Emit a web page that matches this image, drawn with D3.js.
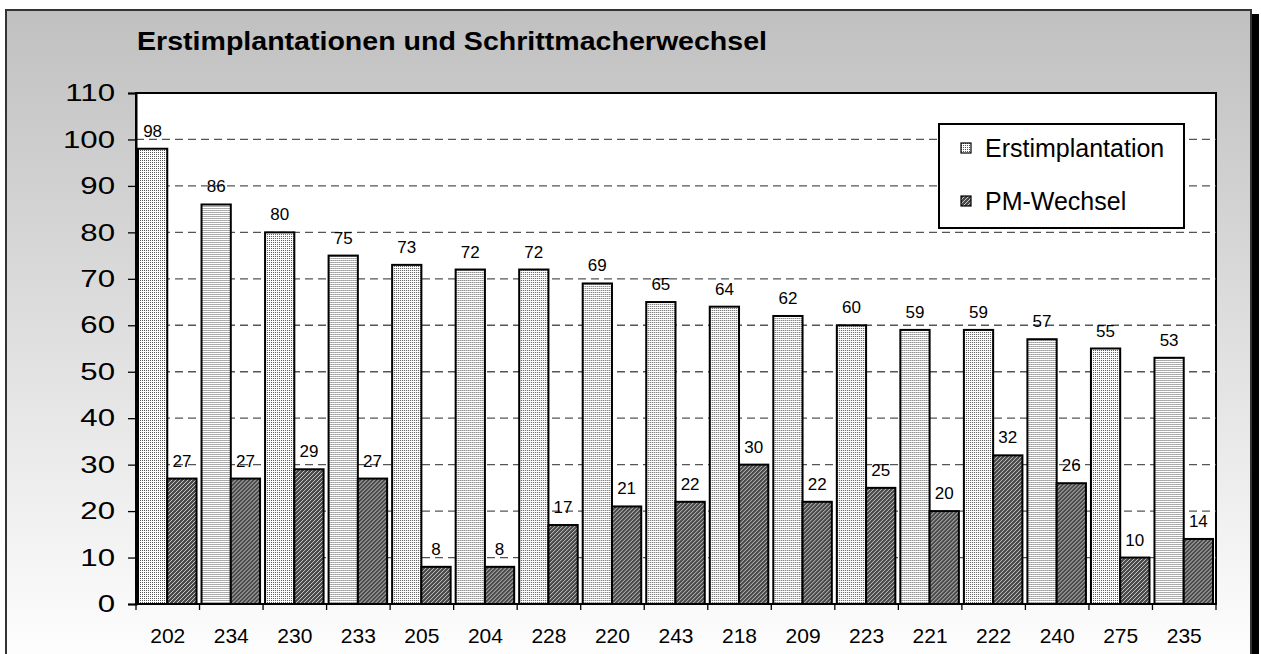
<!DOCTYPE html>
<html>
<head>
<meta charset="utf-8">
<script src="https://cdn.jsdelivr.net/npm/d3@7.9.0/dist/d3.min.js"></script>
<style>
  html, body { margin: 0; padding: 0; background: #fff; }
  svg { display: block; font-family: "Liberation Sans", Arial, sans-serif; }
</style>
</head>
<body>
<svg id="chart" width="1261" height="654"></svg>
<script>
// data
const categories = ['202', '234', '230', '233', '205', '204', '228', '220', '243', '218', '209', '223', '221', '222', '240', '275', '235'];
const erstimplantation = [98, 86, 80, 75, 73, 72, 72, 69, 65, 64, 62, 60, 59, 59, 57, 55, 53];
const pmWechsel = [27, 27, 29, 27, 8, 8, 17, 21, 22, 30, 22, 25, 20, 32, 26, 10, 14];
const yTicks = [0, 10, 20, 30, 40, 50, 60, 70, 80, 90, 100, 110];
const seriesNames = ['Erstimplantation', 'PM-Wechsel'];

const svg = d3.select('#chart');
const defs = svg.append('defs');

// background gradient of the outer panel
const grad = defs.append('linearGradient')
  .attr('id', 'bg').attr('x1', 0).attr('y1', 0).attr('x2', 0).attr('y2', 1);
grad.append('stop').attr('offset', '0%').attr('stop-color', '#c0c0c0');
grad.append('stop').attr('offset', '100%').attr('stop-color', '#ffffff');

// dotted fill (Erstimplantation)
const dots = defs.append('pattern')
  .attr('id', 'dots').attr('patternUnits', 'userSpaceOnUse')
  .attr('width', 2).attr('height', 2);
dots.append('rect').attr('width', 2).attr('height', 2).attr('fill', '#ffffff');
dots.append('rect').attr('width', 1).attr('height', 1).attr('fill', '#555');

// hatched fill (PM-Wechsel)
const hatch = defs.append('pattern')
  .attr('id', 'hatch').attr('patternUnits', 'userSpaceOnUse')
  .attr('width', 4).attr('height', 4);
hatch.append('rect').attr('width', 4).attr('height', 4).attr('fill', '#4a4a4a');
hatch.append('path')
  .attr('d', 'M0,4 L4,0 M-1,1 L1,-1 M3,5 L5,3')
  .attr('stroke', '#c8c8c8').attr('stroke-width', 1);

// outer panel with shadow
svg.append('rect').attr('x', 1252).attr('y', 14).attr('width', 7).attr('height', 660).attr('fill', '#000');
svg.append('rect')
  .attr('x', 6).attr('y', 10).attr('width', 1245).attr('height', 660)
  .attr('fill', 'url(#bg)').attr('stroke', '#333').attr('stroke-width', 2);

// title
svg.append('text')
  .attr('x', 137).attr('y', 50)
  .attr('font-size', 26).attr('font-weight', 'bold')
  .attr('textLength', 630).attr('lengthAdjust', 'spacingAndGlyphs')
  .text('Erstimplantationen und Schrittmacherwechsel');

const plotLeft = 136, plotRight = 1216, plotTop = 93, plotBottom = 604;

const x = d3.scaleBand().domain(categories).range([plotLeft, plotRight]).padding(0);
const x1 = d3.scaleBand().domain(seriesNames).range([2, x.bandwidth() - 3]).padding(0);
const y = d3.scaleLinear().domain([0, 110]).range([plotBottom, plotTop]);

// plot area
svg.append('rect')
  .attr('x', plotLeft).attr('y', plotTop)
  .attr('width', plotRight - plotLeft).attr('height', plotBottom - plotTop)
  .attr('fill', '#fff').attr('stroke', '#000').attr('stroke-width', 2);

// dashed gridlines
svg.append('g')
  .selectAll('line')
  .data(yTicks.filter(t => t > 0 && t < 110))
  .join('line')
  .attr('x1', plotLeft).attr('x2', plotRight)
  .attr('y1', d => y(d)).attr('y2', d => y(d))
  .attr('stroke', '#555').attr('stroke-width', 1.3)
  .attr('stroke-dasharray', '8,5');

// bars
const groups = svg.append('g')
  .selectAll('g')
  .data(categories)
  .join('g')
  .attr('transform', d => `translate(${x(d)},0)`);

const rows = categories.map((c, i) => [
  { key: 'Erstimplantation', value: erstimplantation[i], fill: 'url(#dots)' },
  { key: 'PM-Wechsel', value: pmWechsel[i], fill: 'url(#hatch)' }
]);

groups.selectAll('rect')
  .data((d, i) => rows[i])
  .join('rect')
  .attr('x', d => x1(d.key))
  .attr('width', x1.bandwidth())
  .attr('y', d => y(d.value))
  .attr('height', d => y(0) - y(d.value))
  .attr('fill', d => d.fill)
  .attr('stroke', '#000').attr('stroke-width', 2);

// value labels
groups.selectAll('text')
  .data((d, i) => rows[i])
  .join('text')
  .attr('x', d => x1(d.key) + x1.bandwidth() / 2)
  .attr('y', d => y(d.value) - 12)
  .attr('text-anchor', 'middle')
  .attr('font-size', 17)
  .text(d => d.value);

// y axis
const yAxis = svg.append('g')
  .attr('transform', `translate(${plotLeft},0)`)
  .call(d3.axisLeft(y).tickValues(yTicks).tickSize(8).tickPadding(14));
yAxis.select('.domain').attr('stroke', '#000').attr('stroke-width', 2);
yAxis.selectAll('.tick line').attr('stroke', '#000').attr('stroke-width', 1.3);
yAxis.selectAll('.tick text')
  .attr('font-size', 24)
  .attr('font-family', '"Liberation Sans", Arial, sans-serif')
  .attr('fill', '#000')
  .attr('x', -21 / 1.3)
  .attr('transform', 'scale(1.3,1)');

// x axis: line, boundary ticks, centred labels
const xAxis = svg.append('g');
xAxis.append('line')
  .attr('x1', plotLeft).attr('x2', plotRight).attr('y1', plotBottom).attr('y2', plotBottom)
  .attr('stroke', '#000').attr('stroke-width', 2);
xAxis.selectAll('line.tk')
  .data(categories.concat(['end']))
  .join('line')
  .attr('class', 'tk')
  .attr('x1', (d, i) => plotLeft + i * x.bandwidth())
  .attr('x2', (d, i) => plotLeft + i * x.bandwidth())
  .attr('y1', plotBottom).attr('y2', plotBottom + 6)
  .attr('stroke', '#000').attr('stroke-width', 1.3);
xAxis.selectAll('text')
  .data(categories)
  .join('text')
  .attr('x', d => x(d) + x.bandwidth() / 2)
  .attr('y', 643)
  .attr('text-anchor', 'middle')
  .attr('font-size', 21)
  .text(d => d);

// legend
const legend = svg.append('g');
legend.append('rect')
  .attr('x', 939).attr('y', 124).attr('width', 245).attr('height', 104)
  .attr('fill', '#fff').attr('stroke', '#000').attr('stroke-width', 2);
const items = legend.selectAll('g')
  .data(seriesNames)
  .join('g')
  .attr('transform', (d, i) => `translate(961,${143 + i * 53})`);
items.append('rect')
  .attr('width', 10).attr('height', 10)
  .attr('fill', (d, i) => i === 0 ? 'url(#dots)' : 'url(#hatch)')
  .attr('stroke', '#000').attr('stroke-width', 1.2);
items.append('text')
  .attr('x', 24).attr('y', 14)
  .attr('font-size', 25)
  .text(d => d);
</script>
</body>
</html>
